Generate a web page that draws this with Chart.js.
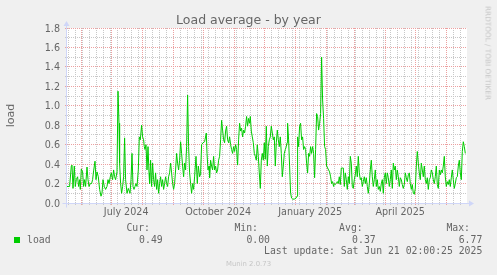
<!DOCTYPE html>
<html>
<head>
<meta charset="utf-8">
<title>Load average - by year</title>
<script src="https://cdn.jsdelivr.net/npm/chart.js@4.4.1/dist/chart.umd.min.js"></script>
<style>
  html, body { margin:0; padding:0; background:#F0F0F0; }
  #wrap { position:relative; width:497px; height:275px; overflow:hidden; background:#F0F0F0; }
  #chart { position:absolute; left:0; top:0; }
  .txt { position:absolute; white-space:nowrap; color:#666666; }
  .sans { font-family:"DejaVu Sans", sans-serif; }
  .mono { font-family:"DejaVu Sans Mono", monospace; font-size:9.8px; height:12px; line-height:12px; text-align:right; }
</style>
</head>
<body>
<div id="wrap">
  <canvas id="chart" width="497" height="275"></canvas>
  <div class="txt sans" style="left:0;width:497px;text-align:center;top:11.8px;height:16px;line-height:16px;font-size:12.5px;">Load average - by year</div>
  <div class="txt sans" style="left:487.5px;top:52.5px;font-size:7.3px;line-height:9px;color:#c6c6c6;transform:translate(-50%,-50%) rotate(90deg);">RRDTOOL / TOBI OETIKER</div>

  <div class="txt mono" style="right:347px;top:222px;">Cur:</div>
  <div class="txt mono" style="right:239px;top:222px;">Min:</div>
  <div class="txt mono" style="right:134.3px;top:222px;">Avg:</div>
  <div class="txt mono" style="right:27px;top:222px;">Max:</div>

  <div style="position:absolute;left:14px;top:236.5px;width:6px;height:6px;background:#00CC00;"></div>
  <div class="txt mono" style="left:27px;top:233.7px;text-align:left;">load</div>
  <div class="txt mono" style="right:334.3px;top:233.7px;">0.49</div>
  <div class="txt mono" style="right:227px;top:233.7px;">0.00</div>
  <div class="txt mono" style="right:121.3px;top:233.7px;">0.37</div>
  <div class="txt mono" style="right:14.7px;top:233.7px;">6.77</div>

  <div class="txt mono" style="right:14.7px;top:245px;">Last update: Sat Jun 21 02:00:25 2025</div>
  <div class="txt sans" style="left:0;width:497px;text-align:center;top:259.6px;height:8px;line-height:8px;font-size:6.9px;color:#c6c6c6;">Munin 2.0.73</div>
</div>

<script>
// ---------- time axis ----------
const DAY_MS = 86400000;
const START_MS = Date.UTC(2024, 4, 17, 20);            // day 0 = left edge of the plot
const X_MIN = 0, X_MAX = 400;                           // 400 days shown
const monthStarts = ['2024-06-01','2024-07-01','2024-08-01','2024-09-01','2024-10-01','2024-11-01',
                     '2024-12-01','2025-01-01','2025-02-01','2025-03-01','2025-04-01','2025-05-01','2025-06-01'];
const xLabelDates = ['2024-07-01','2024-10-01','2025-01-01','2025-04-01'];
const xLabels     = ['July 2024','October 2024','January 2025','April 2025'];
const firstSunday = '2024-05-19';

// ---------- value axis ----------
const yTickValues = [0,0.1,0.2,0.3,0.4,0.5,0.6,0.7,0.8,0.9,1.0,1.1,1.2,1.3,1.4,1.5,1.6,1.7,1.8];

// ---------- data: day (since plot start) and load ----------
const daysA = [0.0,2.6,4.3,5.0,6.0,7.3,8.3,9.3,10.6,11.6,
               12.6,13.3,14.3,15.6,16.6,17.6,18.6,20.0,21.0,22.0,
               23.3,24.6,25.6,26.6,28.0,29.0,30.0,31.3,32.6,34.0,
               35.0,36.0,37.3,38.6,40.0,41.0,42.0,43.3,44.3,45.6,
               46.6,47.6,48.6,50.0,51.0,52.0,52.6,53.6,54.6,55.6,
               56.6,57.6,58.6,60.0,61.3];
const loadA = [.17,.17,.38,.39,.15,.38,.17,.24,.27,.17,
               .24,.14,.35,.32,.17,.24,.17,.37,.24,.17,
               .20,.20,.24,.33,.43,.24,.32,.27,.14,.07,
               .10,.24,.17,.14,.17,.24,.20,.27,.31,.24,
               .34,.27,.24,.32,1.15,.82,.41,.20,.10,.17,
               .27,.67,.24,.10,.15];

const daysB = [63.0,64.0,65.0,66.0,67.0,68.0,69.0,70.0,71.3,72.3,
               73.3,74.6,75.6,76.6,77.3,78.0,79.0,80.0,81.0,82.0,
               82.6,83.6,84.6,85.6,86.6,87.6,88.6,89.6,90.6,91.6,
               92.6,93.6,94.6,95.6,96.6,97.6,98.6,99.6,100.6,101.6,
               102.6,103.6,104.6,105.6,106.6,107.6,108.6,109.6,110.6,111.6,
               112.6,113.6,114.6,115.6,116.6,117.6,118.6,119.6,120.6,121.6,
               122.6,123.6,124.6,125.6,126.6,127.6,129.0];
const loadB = [.10,.24,.51,.17,.14,.17,.20,.17,.34,.68,
               .65,.80,.68,.65,.58,.55,.60,.34,.58,.31,
               .20,.44,.17,.41,.24,.17,.31,.14,.24,.10,
               .20,.27,.17,.24,.14,.20,.27,.20,.17,.27,
               .31,.41,.31,.20,.14,.20,.34,.51,.41,.34,
               .44,.63,.51,.38,.27,.41,.34,.58,1.11,.58,
               .31,.20,.10,.20,.14,.27,.48];

const daysC = [130.3,131.3,132.6,133.6,134.6,136.0,137.6,139.3,140.0,141.0,
               142.0,142.6,143.6,144.6,145.6,146.6,147.6,148.6,149.6,150.6,
               151.6,152.6,153.6,154.6,155.6,156.6,157.6,158.6,159.6,160.6,
               161.6,162.6,163.6,164.6,165.6,166.6,167.6,168.6,169.6,170.6,
               171.6,172.6,173.6,174.6,175.6,176.6,177.6,178.6,179.6,180.6,
               181.6,182.6,183.3,184.3,185.3,186.3,187.3,188.3,189.3,190.3,
               191.3,192.3,193.3,194.3,195.3,196.3];
const loadC = [.20,.38,.27,.30,.60,.62,.63,.72,.51,.34,
               .38,.26,.44,.38,.34,.48,.34,.38,.31,.34,
               .44,.48,.65,.85,.75,.65,.62,.74,.79,.65,
               .62,.68,.60,.55,.51,.58,.53,.60,.55,.39,
               .65,.82,.74,.77,.68,.75,.72,.79,.89,.79,
               .87,.82,.89,.74,.68,.62,.51,.48,.44,.60,
               .48,.31,.15,.44,.51,.44];

const daysD = [197.3,198.3,199.3,200.3,201.3,202.3,203.3,204.3,205.3,206.3,
               207.3,208.3,209.3,210.3,211.3,212.3,213.3,214.3,215.3,216.3,
               217.3,218.3,219.3,220.0,220.6,221.6,222.6,223.6,224.6,225.6,
               227.3,229.0,230.0,230.6,231.6,232.6,233.6,234.6,235.6,236.6,
               237.6,238.6,239.6,240.6,241.6,242.6,243.6,244.6,245.6,246.6,
               247.6,248.6,249.6,250.6,251.6,252.6,253.6,254.6,255.6,256.6,
               257.6,258.6,259.6,260.6,261.6,262.6,263.6,264.6,265.6,266.6];
const loadD = [.62,.45,.79,.38,.58,.65,.68,.79,.72,.65,
               .68,.38,.62,.75,.65,.58,.68,.51,.27,.38,
               .51,.55,.58,.62,.82,.65,.38,.10,.05,.04,
               .04,.05,.07,.68,.58,.79,.82,.65,.68,.55,
               .58,.55,.41,.31,.51,.48,.58,.51,.58,.51,
               .26,.55,.92,.89,.75,.82,.92,1.50,1.06,.87,
               .58,.55,.38,.36,.34,.32,.27,.20,.22,.17];

const daysE = [267.3,268.3,269.3,270.3,271.3,272.3,273.3,274.3,275.3,276.3,
               277.3,278.3,279.3,280.3,281.3,282.3,283.3,284.3,285.3,286.3,
               287.3,288.3,289.3,290.3,291.3,292.3,293.3,294.3,295.3,296.3,
               297.3,298.3,299.3,300.3,301.3,302.3,303.3,304.3,305.3,306.3,
               307.3,308.3,309.3,310.3,311.3,312.3,313.3,314.3,315.3,316.3,
               317.3,318.3,319.3,320.3,321.3,322.3,323.3,324.3,325.3,326.3,
               327.3,328.3,329.3,330.3,331.3,332.3];
const loadE = [.20,.19,.20,.22,.20,.27,.19,.36,.36,.36,
               .17,.31,.24,.14,.27,.20,.48,.41,.17,.15,
               .24,.29,.38,.27,.48,.31,.24,.26,.17,.22,
               .27,.20,.26,.17,.10,.20,.34,.44,.27,.17,
               .24,.34,.17,.24,.14,.17,.12,.20,.24,.10,
               .26,.31,.20,.31,.26,.17,.24,.34,.15,.41,
               .34,.38,.24,.34,.27,.17];

const daysF = [333.3,334.3,335.3,336.3,337.3,338.3,339.3,340.3,341.3,342.3,
               343.3,344.3,345.3,346.3,347.3,348.3,349.3,350.3,351.3,352.3,
               353.3,354.3,355.3,356.3,357.3,358.3,359.3,360.3,361.3,362.3,
               363.3,364.3,365.3,366.3,367.3,368.3,369.3,370.3,371.3,372.3,
               373.3,374.3,375.3,376.3,377.3,378.3,379.3,380.3,381.3,382.3,
               383.3,384.3,385.3,386.3,387.3,388.3,389.3,390.3,391.3,392.3,
               393.3,394.3,395.3,396.3,397.3,398.3];
const loadF = [.26,.24,.19,.15,.19,.31,.26,.22,.29,.31,
               .20,.14,.19,.10,.09,.15,.38,.53,.41,.31,
               .24,.41,.34,.27,.38,.24,.20,.26,.14,.24,
               .26,.34,.31,.24,.20,.27,.38,.19,.15,.34,
               .29,.34,.31,.38,.48,.27,.17,.22,.19,.24,
               .17,.26,.34,.24,.15,.20,.26,.27,.38,.44,
               .31,.24,.53,.63,.58,.51];

// ---------- build ----------
const days = [].concat(daysA, daysB, daysC, daysD, daysE, daysF);
const load = [].concat(loadA, loadB, loadC, loadD, loadE, loadF);
if (days.length !== load.length) console.error('length mismatch', days.length, load.length);
const points = days.map((d, i) => ({ x: d, y: load[i] }));

const dayOf = s => (Date.parse(s + 'T00:00:00Z') - START_MS) / DAY_MS;
const majorDays = monthStarts.map(dayOf);
const xTicks = majorDays.map(v => ({ value: v, major: true }));
for (let d = dayOf(firstSunday); d < X_MAX; d += 7) {
  if (!majorDays.some(m => Math.abs(m - d) < 0.6)) xTicks.push({ value: d, major: false });
}
xTicks.sort((a, b) => a.value - b.value);
const labelDays = xLabelDates.map(dayOf);
const xLabelFor = v => {
  const i = labelDays.findIndex(d => Math.abs(d - v) < 0.01);
  return i >= 0 ? xLabels[i] : '';
};
const isMajorY = v => Math.round(v * 10) % 2 === 0;
const yTicks = yTickValues.map(v => ({ value: v, major: isMajorY(v) }));

const MAJOR = 'rgb(236,160,160)';
const MINOR = 'rgb(200,200,200)';
const AXIS = '#CFD6F8';
const FONT = '#666666';

const rrdFrame = {
  id: 'rrdFrame',
  beforeDraw(chart) {
    const { ctx, chartArea: a } = chart;
    ctx.save();
    ctx.fillStyle = '#FFFFFF';
    ctx.fillRect(a.left, a.top, a.right - a.left, a.bottom - a.top);
    ctx.restore();
  },
  afterDatasetsDraw(chart) {
    const { ctx, chartArea: a } = chart;
    const x0 = a.left - 0.5, y0 = a.bottom + 0.5;
    ctx.save();
    ctx.strokeStyle = AXIS;
    ctx.lineWidth = 1;
    ctx.beginPath();
    ctx.moveTo(x0 - 4, y0); ctx.lineTo(a.right + 4, y0);
    ctx.moveTo(x0, y0 + 4); ctx.lineTo(x0, a.top - 4);
    ctx.stroke();
    ctx.fillStyle = AXIS;
    ctx.beginPath();
    ctx.moveTo(a.right + 2, y0 - 3); ctx.lineTo(a.right + 2, y0 + 3); ctx.lineTo(a.right + 7, y0);
    ctx.closePath(); ctx.fill();
    ctx.beginPath();
    ctx.moveTo(x0 - 3, a.top - 2); ctx.lineTo(x0 + 3, a.top - 2); ctx.lineTo(x0, a.top - 7);
    ctx.closePath(); ctx.fill();
    ctx.restore();
  }
};

new Chart(document.getElementById('chart'), {
  type: 'line',
  data: {
    datasets: [{
      label: 'load',
      data: points,
      borderColor: '#00CC00',
      borderWidth: 1,
      pointRadius: 0,
      tension: 0,
      fill: false
    }]
  },
  options: {
    responsive: false,
    animation: false,
    devicePixelRatio: 1,
    layout: { padding: { left: 0, top: 28, right: 30, bottom: 0 } },
    plugins: { legend: { display: false }, tooltip: { enabled: false }, title: { display: false } },
    scales: {
      x: {
        type: 'linear',
        min: X_MIN, max: X_MAX,
        afterBuildTicks: s => { s.ticks = xTicks.map(t => ({ value: t.value, major: t.major })); },
        afterFit: s => { s.height = 72; },
        grid: {
          color: ctx => (ctx.tick && ctx.tick.major) ? MAJOR : MINOR,
          lineWidth: 1, drawTicks: true, tickLength: 2, tickBorderDash: []
        },
        border: { display: false, dash: [1, 1] },
        ticks: {
          autoSkip: false, maxRotation: 0, minRotation: 0,
          labelOffset: 15, padding: 1.6, color: FONT,
          font: { family: 'DejaVu Sans', size: 9.6 },
          callback: v => xLabelFor(v)
        }
      },
      y: {
        type: 'linear',
        min: 0, max: 1.8,
        afterBuildTicks: s => { s.ticks = yTicks.map(t => ({ value: t.value, major: t.major })); },
        afterFit: s => { s.width = 67; },
        grid: {
          color: ctx => (ctx.tick && ctx.tick.major) ? MAJOR : MINOR,
          lineWidth: 1, drawTicks: true, tickLength: 2, tickBorderDash: []
        },
        border: { display: false, dash: [1, 1] },
        ticks: {
          autoSkip: false, padding: 5, labelOffset: 1, color: FONT,
          font: { family: 'DejaVu Sans', size: 9.6 },
          callback: v => isMajorY(v) ? v.toFixed(1) : ''
        },
        title: {
          display: true, text: 'load', color: FONT,
          font: { family: 'DejaVu Sans', size: 11.1 },
          padding: { top: 4.5, bottom: 0 }
        }
      }
    }
  },
  plugins: [rrdFrame]
});
</script>
</body>
</html>
